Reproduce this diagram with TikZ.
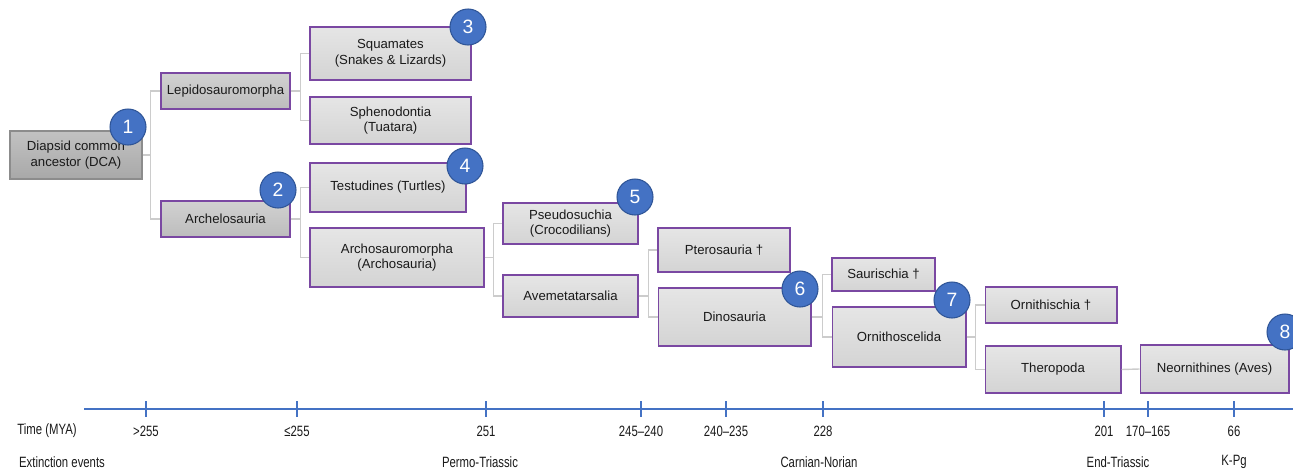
\documentclass[tikz,border=0pt]{standalone}
\usepackage{fontspec}
\setmainfont{Liberation Sans}
\newfontfamily\narrowfont[FakeStretch=0.76]{Liberation Sans}
\usetikzlibrary{positioning}
\definecolor{cladeedge}{RGB}{122,72,162}
\definecolor{badgeblue}{RGB}{68,114,196}
\definecolor{badgeedge}{RGB}{47,85,151}
\definecolor{linkgray}{RGB}{204,204,204}
\definecolor{inkgray}{RGB}{26,26,26}

\begin{document}
\begin{tikzpicture}[
        x=0.02cm, y=-0.02cm,
        clade/.style={rectangle, draw=cladeedge, line width=0.6pt, top color=black!10, bottom color=black!17,
            align=center, font=\fontsize{7.5}{9}\selectfont, text=inkgray, inner sep=1pt},
        upper/.style={clade, top color=black!18, bottom color=black!26},
        root/.style={clade, draw=black!45, top color=black!24, bottom color=black!34},
        badge/.style={circle, draw=badgeedge, line width=0.6pt, fill=badgeblue, minimum size=0.72cm,
            inner sep=0pt, text=white, font=\fontsize{11}{12}\selectfont},
        link/.style={draw=linkgray, line width=0.8pt},
        axis/.style={draw=badgeblue, line width=0.8pt},
        tlabel/.style={font=\narrowfont\fontsize{8.5}{10}\selectfont, text=inkgray},
    ]
        \useasboundingbox (0,0) rectangle (1293,470);

        % Clade boxes
        \node[root, minimum width=2.64cm, minimum height=0.96cm] (DCA) at (76,155) {Diapsid common\\ancestor (DCA)};
        \node[upper, minimum width=2.58cm, minimum height=0.72cm] (LEPIDO) at (225.5,91) {Lepidosauromorpha};
        \node[upper, minimum width=2.58cm, minimum height=0.72cm] (ARCHELO) at (225.5,219) {Archelosauria};
        \node[clade, minimum width=3.22cm, minimum height=1.06cm] (SQUAM) at (390.5,53.5) {Squamates\\(Snakes \& Lizards)};
        \node[clade, minimum width=3.22cm, minimum height=0.94cm] (SPHENO) at (390.5,120.5) {Sphenodontia\\(Tuatara)};
        \node[clade, minimum width=3.12cm, minimum height=0.98cm] (TESTU) at (388,187.5) {Testudines (Turtles)};
        \node[clade, minimum width=3.48cm, minimum height=1.18cm] (ARCHO) at (397,257.5) {Archosauromorpha\\(Archosauria)};
        \node[clade, minimum width=2.70cm, minimum height=0.82cm] (PSEUDO) at (570.5,223.5) {Pseudosuchia\\(Crocodilians)};
        \node[clade, minimum width=2.70cm, minimum height=0.84cm] (AVEME) at (570.5,296) {Avemetatarsalia};
        \node[clade, minimum width=2.64cm, minimum height=0.88cm] (PTERO) at (724,250) {Pterosauria \dag};
        \node[clade, minimum width=3.06cm, minimum height=1.16cm] (DINO) at (734.5,317) {Dinosauria};
        \node[clade, minimum width=2.06cm, minimum height=0.66cm] (SAURI) at (883.5,274.5) {Saurischia \dag};
        \node[clade, minimum width=2.68cm, minimum height=1.20cm] (ORNSC) at (899,337) {Ornithoscelida};
        \node[clade, minimum width=2.64cm, minimum height=0.72cm] (ORNITH) at (1051,305) {Ornithischia \dag};
        \node[clade, minimum width=2.72cm, minimum height=0.94cm] (THERO) at (1053,369.5) {Theropoda};
        \node[clade, minimum width=2.98cm, minimum height=0.96cm] (NEORN) at (1214.5,369) {Neornithines (Aves)};

        % Branch connectors
        \draw[link] (DCA.east) -- ++(8,0) coordinate (J1) |- (LEPIDO.west);
        \draw[link] (J1) |- (ARCHELO.west);
        \draw[link] (LEPIDO.east) -- ++(10,0) coordinate (J2) |- (SQUAM.west);
        \draw[link] (J2) |- (SPHENO.west);
        \draw[link] (ARCHELO.east) -- ++(10,0) coordinate (J3) |- (TESTU.west);
        \draw[link] (J3) |- (ARCHO.west);
        \draw[link] (ARCHO.east) -- ++(9,0) coordinate (J4) |- (PSEUDO.west);
        \draw[link] (J4) |- (AVEME.west);
        \draw[link] (AVEME.east) -- ++(10,0) coordinate (J5) |- (PTERO.west);
        \draw[link] (J5) |- (DINO.west);
        \draw[link] (DINO.east) -- ++(11,0) coordinate (J6) |- (SAURI.west);
        \draw[link] (J6) |- (ORNSC.west);
        \draw[link] (ORNSC.east) -- ++(9,0) coordinate (J7) |- (ORNITH.west);
        \draw[link] (J7) |- (THERO.west);
        \draw[link] (THERO.east) -- (NEORN.west);

        % Numbered badges
        \node[badge] (B1) at (128,127) {1};
        \node[badge] (B2) at (278,190) {2};
        \node[badge] (B3) at (468,27) {3};
        \node[badge] (B4) at (465,166) {4};
        \node[badge] (B5) at (635,197) {5};
        \node[badge] (B6) at (800,289) {6};
        \node[badge] (B7) at (952,300) {7};
        \node[badge] (B8) at (1285,332) {8};

        % Time axis
        \draw[axis] (84,409) -- (1293,409);
        \foreach \x/\lab in {146/{>255}, 297/{≤255}, 486/{251}, 641/{245–240}, 726/{240–235},
                823/{228}, 1104/{201}, 1148/{170–165}, 1234/{66}} {
            \draw[axis] (\x,401) -- (\x,417);
            \node[tlabel] (T\x) at (\x,431) {\lab};
        }
        \node[tlabel] (TIME) at (47,431) {Time (MYA)};

        % Extinction events
        \node[tlabel] (EXT) at (62,462) {Extinction events};
        \node[tlabel] (PT) at (480,462) {Permo-Triassic};
        \node[tlabel] (CN) at (819,462) {Carnian-Norian};
        \node[tlabel] (ET) at (1118,462) {End-Triassic};
        \node[tlabel] (KPG) at (1234,462) {K-Pg};
    \end{tikzpicture}
\end{document}
